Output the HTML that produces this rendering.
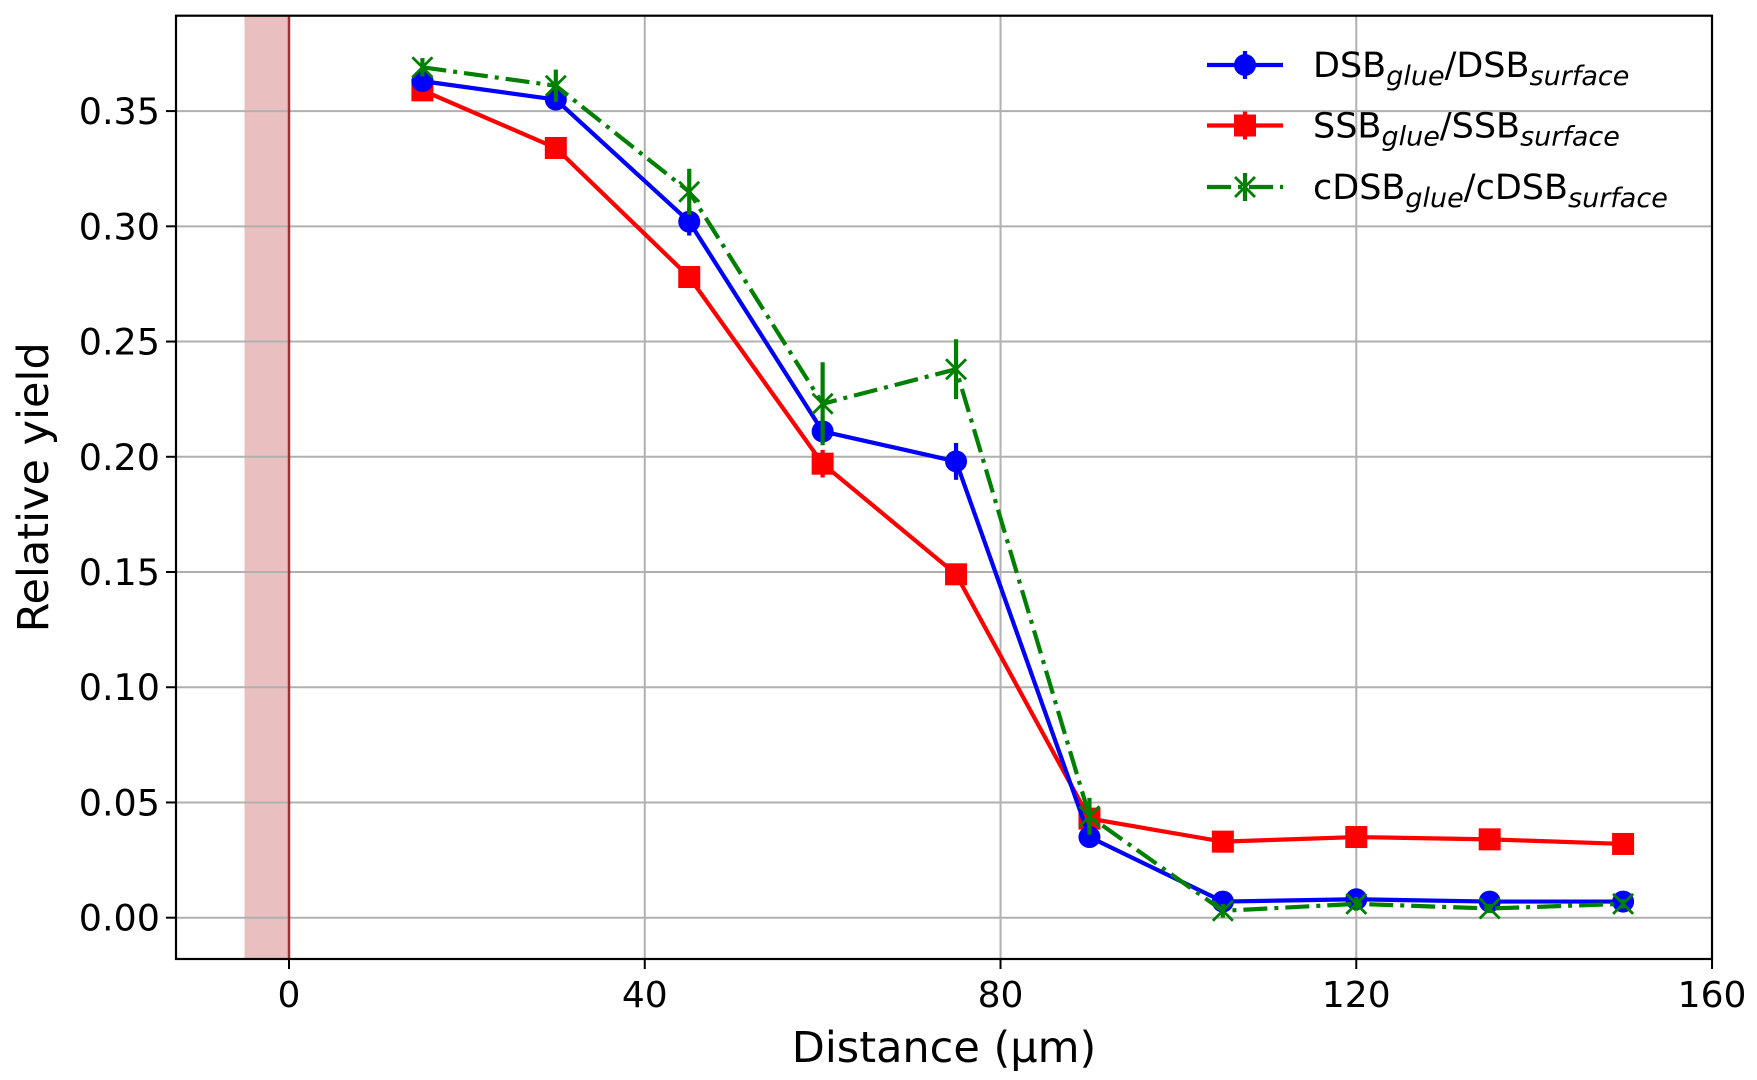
<!DOCTYPE html>
<html><head><meta charset="utf-8"><style>
html,body{margin:0;padding:0;background:#fff;}
svg{display:block;font-family:"DejaVu Sans","Liberation Sans",sans-serif;}
</style></head><body>
<svg id="s" width="1757" height="1080" viewBox="0 0 1757 1080" xmlns="http://www.w3.org/2000/svg"></svg>
<script>
const X=v=>289+v*8.894, Y=v=>917.7-v*2304.6;
const L=176,R=1712,T=15.7,B=959;
let h='';
h+=`<rect x="${X(-5)}" y="${T}" width="${X(0)-X(-5)}" height="${B-T}" fill="#c04848" fill-opacity="0.35"/>`;
for(const t of [0,40,80,120,160]){h+=`<line x1="${X(t)}" x2="${X(t)}" y1="${T}" y2="${B}" stroke="#b0b0b0" stroke-width="2"/>`;
 h+=`<line x1="${X(t)}" x2="${X(t)}" y1="${B}" y2="${B+10}" stroke="#000" stroke-width="2"/>`;
 h+=`<text x="${X(t)}" y="${B+48}" font-size="36" text-anchor="middle">${t}</text>`;}
for(let i=0;i<=7;i++){const v=i*0.05,y=Y(v);h+=`<line x1="${L}" x2="${R}" y1="${y}" y2="${y}" stroke="#b0b0b0" stroke-width="2"/>`;
 h+=`<line x1="${L-10}" x2="${L}" y1="${y}" y2="${y}" stroke="#000" stroke-width="2"/>`;
 h+=`<text x="${L-16}" y="${y+13}" font-size="36.5" text-anchor="end">${v.toFixed(2)}</text>`;}
h+=`<line x1="${X(0)}" x2="${X(0)}" y1="${T}" y2="${B}" stroke="#a03030" stroke-width="2.5"/>`;
const xs=[15,30,45,60,75,90,105,120,135,150];
const blue=[0.363,0.355,0.302,0.211,0.198,0.035,0.007,0.008,0.007,0.007];
const red=[0.359,0.334,0.278,0.197,0.149,0.043,0.033,0.035,0.034,0.032];
const grn=[0.369,0.361,0.315,0.223,0.238,0.044,0.003,0.006,0.004,0.006];
const gerr=[0.004,0.007,0.01,0.018,0.013,0.008,0.003,0.003,0.002,0.002];
const berr=[0.003,0.003,0.006,0.004,0.008,0.003,0.001,0.001,0.001,0.001];
const rerr=[0.002,0.002,0.003,0.006,0.003,0.002,0.001,0.001,0.001,0.001];
const pts=a=>xs.map((x,i)=>`${X(x)},${Y(a[i])}`).join(' ');
const SW=4.2, DA='stroke-dasharray="24,7,4,7"';
function eb(a,e,c){let s='';xs.forEach((x,i)=>{s+=`<line x1="${X(x)}" x2="${X(x)}" y1="${Y(a[i]+e[i])}" y2="${Y(a[i]-e[i])}" stroke="${c}" stroke-width="${SW}"/>`});return s;}
h+=eb(red,rerr,'#ff0000');
h+=`<polyline points="${pts(red)}" fill="none" stroke="#ff0000" stroke-width="${SW}"/>`;
xs.forEach((x,i)=>{h+=`<rect x="${X(x)-11}" y="${Y(red[i])-11}" width="22" height="22" fill="#ff0000"/>`});
h+=eb(blue,berr,'#0000ff');
h+=`<polyline points="${pts(blue)}" fill="none" stroke="#0000ff" stroke-width="${SW}"/>`;
xs.forEach((x,i)=>{h+=`<circle cx="${X(x)}" cy="${Y(blue[i])}" r="11" fill="#0000ff"/>`});
h+=eb(grn,gerr,'#008000');
h+=`<polyline points="${pts(grn)}" fill="none" stroke="#008000" stroke-width="${SW}" ${DA}/>`;
const xm=(cx,cy,c)=>`<path d="M${cx-10},${cy-10}L${cx+10},${cy+10}M${cx-10},${cy+10}L${cx+10},${cy-10}" stroke="${c}" stroke-width="2.8"/>`;
xs.forEach((x,i)=>{h+=xm(X(x),Y(grn[i]),'#008000')});
h+=`<rect x="${L}" y="${T}" width="${R-L}" height="${B-T}" fill="none" stroke="#000" stroke-width="2.2"/>`;
h+=`<text x="${(L+R)/2}" y="1062" font-size="43" text-anchor="middle">Distance (μm)</text>`;
h+=`<text transform="translate(48,${(T+B)/2}) rotate(-90)" font-size="43" text-anchor="middle">Relative yield</text>`;
const lg=[[65,'#0000ff','c','DSB','glue','/DSB','surface'],[125.5,'#ff0000','s','SSB','glue','/SSB','surface'],[187,'#008000','x','cDSB','glue','/cDSB','surface']];
lg.forEach(([y,c,m,a,b,d,e])=>{
 h+=`<line x1="1207" x2="1283" y1="${y}" y2="${y}" stroke="${c}" stroke-width="${SW}" ${m=='x'?DA:''}/>`;
 h+=`<line x1="1245" x2="1245" y1="${y-14}" y2="${y+14}" stroke="${c}" stroke-width="${SW}"/>`;
 if(m=='c')h+=`<circle cx="1245" cy="${y}" r="11" fill="${c}"/>`;
 if(m=='s')h+=`<rect x="1234" y="${y-11}" width="22" height="22" fill="${c}"/>`;
 if(m=='x')h+=xm(1245,y,c);
 h+=`<text x="1313" y="${y+12}" font-size="35">${a}<tspan font-size="27" font-style="italic" dy="8">${b}</tspan><tspan dy="-8">${d}</tspan><tspan font-size="27" font-style="italic" dy="8">${e}</tspan></text>`;
});
document.getElementById('s').innerHTML=h;
</script>
</body></html>
